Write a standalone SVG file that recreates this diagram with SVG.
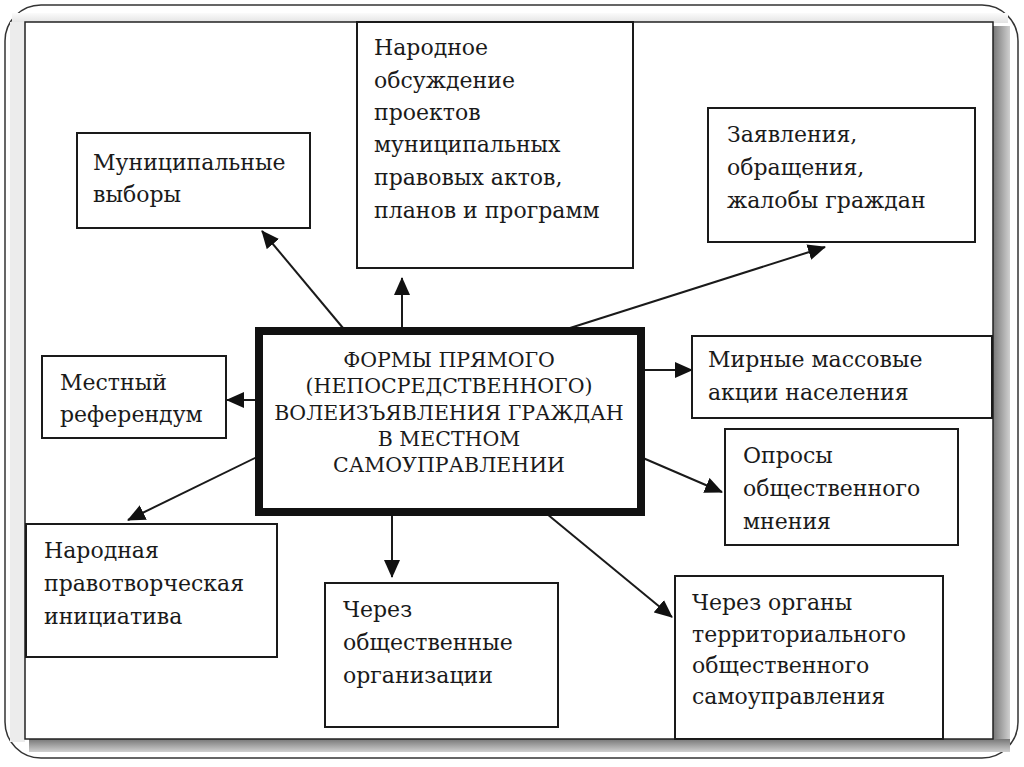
<svg xmlns="http://www.w3.org/2000/svg" width="1024" height="767" viewBox="0 0 1024 767">
<style>
.box{fill:#fff;stroke:#1a1a1a;stroke-width:2}
.t{font-family:'DejaVu Serif',serif;font-size:22px;fill:#1a1a1a}
.c{font-family:'DejaVu Serif',serif;font-size:20.5px;fill:#1a1a1a;text-anchor:middle}
.ln{stroke:#1a1a1a;stroke-width:2;fill:none;marker-end:url(#ah)}
</style>
<defs>
<marker id="ah" markerUnits="userSpaceOnUse" markerWidth="18" markerHeight="16" refX="17" refY="8" orient="auto">
<path d="M0,0 L18,8 L0,16 Z" fill="#111"/>
</marker>
<linearGradient id="gt" x1="0" y1="0" x2="0" y2="1"><stop offset="0" stop-color="#fbfbfb"/><stop offset="1" stop-color="#e2e2e2"/></linearGradient>
<linearGradient id="gr" x1="0" y1="0" x2="1" y2="0"><stop offset="0" stop-color="#777"/><stop offset="1" stop-color="#d0d0d0"/></linearGradient>
<linearGradient id="gb" x1="0" y1="0" x2="0" y2="1"><stop offset="0" stop-color="#777"/><stop offset="1" stop-color="#d0d0d0"/></linearGradient>
</defs>
<rect x="0" y="0" width="1024" height="767" fill="#fff"/>
<rect x="5" y="5" width="1013" height="753" rx="36" fill="#fff" stroke="#333" stroke-width="1.5"/>
<rect x="12" y="13" width="996" height="10" fill="url(#gt)"/>
<rect x="10" y="22" width="15" height="720" fill="#ececec"/>
<rect x="993" y="26" width="17" height="726" fill="url(#gr)"/>
<rect x="29" y="739" width="981" height="13" fill="url(#gb)"/>
<rect x="25" y="22" width="968" height="717" fill="#fff" stroke="#222" stroke-width="1.5"/>

<g id="connectors">
<line class="ln" x1="343" y1="328" x2="262" y2="231"/>
<line class="ln" x1="402" y1="328" x2="402" y2="278"/>
<line class="ln" x1="570" y1="328" x2="825" y2="247"/>
<line class="ln" x1="258" y1="400" x2="227" y2="400"/>
<line class="ln" x1="645" y1="370" x2="692" y2="370"/>
<line class="ln" x1="643" y1="458" x2="722" y2="492"/>
<line class="ln" x1="257" y1="457" x2="128" y2="520"/>
<line class="ln" x1="392" y1="515" x2="392" y2="577"/>
<line class="ln" x1="547" y1="514" x2="672" y2="617"/>
</g>

<g id="center">
<rect x="259" y="331" width="382" height="181" fill="#fff" stroke="#111" stroke-width="8"/>
<text class="c" x="449" y="367">ФОРМЫ ПРЯМОГО</text>
<text class="c" x="449" y="393">(НЕПОСРЕДСТВЕННОГО)</text>
<text class="c" x="449" y="420">ВОЛЕИЗЪЯВЛЕНИЯ ГРАЖДАН</text>
<text class="c" x="449" y="446">В МЕСТНОМ</text>
<text class="c" x="449" y="472">САМОУПРАВЛЕНИИ</text>
</g>

<g id="n-vybory">
<rect class="box" x="77" y="133" width="233" height="95"/>
<text class="t" x="93" y="170">Муниципальные</text>
<text class="t" x="93" y="202">выборы</text>
</g>

<g id="n-obsuzhdenie">
<rect class="box" x="357" y="22" width="276" height="246"/>
<text class="t" x="374" y="55">Народное</text>
<text class="t" x="374" y="88">обсуждение</text>
<text class="t" x="374" y="120">проектов</text>
<text class="t" x="374" y="152">муниципальных</text>
<text class="t" x="374" y="185">правовых актов,</text>
<text class="t" x="374" y="218">планов и программ</text>
</g>

<g id="n-zayavleniya">
<rect class="box" x="708" y="108" width="267" height="134"/>
<text class="t" x="727" y="142">Заявления,</text>
<text class="t" x="727" y="175">обращения,</text>
<text class="t" x="727" y="208">жалобы граждан</text>
</g>

<g id="n-referendum">
<rect class="box" x="42" y="356" width="184" height="82"/>
<text class="t" x="60" y="390">Местный</text>
<text class="t" x="60" y="422">референдум</text>
</g>

<g id="n-mirnye">
<rect class="box" x="692" y="336" width="300" height="82"/>
<text class="t" x="708" y="367">Мирные массовые</text>
<text class="t" x="708" y="400">акции населения</text>
</g>

<g id="n-oprosy">
<rect class="box" x="725" y="429" width="233" height="116"/>
<text class="t" x="743" y="463">Опросы</text>
<text class="t" x="743" y="496">общественного</text>
<text class="t" x="743" y="529">мнения</text>
</g>

<g id="n-iniciativa">
<rect class="box" x="26" y="524" width="251" height="133"/>
<text class="t" x="44" y="558">Народная</text>
<text class="t" x="44" y="591">правотворческая</text>
<text class="t" x="44" y="624">инициатива</text>
</g>

<g id="n-organizacii">
<rect class="box" x="325" y="583" width="233" height="144"/>
<text class="t" x="343" y="617">Через</text>
<text class="t" x="343" y="650">общественные</text>
<text class="t" x="343" y="683">организации</text>
</g>

<g id="n-tos">
<rect class="box" x="675" y="576" width="268" height="163"/>
<text class="t" x="692" y="610">Через органы</text>
<text class="t" x="692" y="642">территориального</text>
<text class="t" x="692" y="673">общественного</text>
<text class="t" x="692" y="704">самоуправления</text>
</g>
</svg>
